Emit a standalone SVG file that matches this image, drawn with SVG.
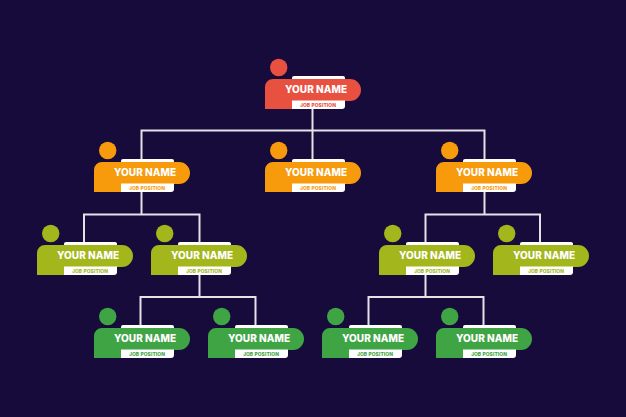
<svg xmlns="http://www.w3.org/2000/svg" width="626" height="417" viewBox="0 0 626 417">
<style>
.n{font-family:Inter,"Liberation Sans",sans-serif;font-weight:800;font-size:10px;fill:#fff;text-anchor:middle}
.j{font-family:Inter,"Liberation Sans",sans-serif;font-weight:800;font-size:4.9px;text-anchor:middle}
.w{fill:#fff}
.h{r:8.7px;cx:13.7px;cy:-11.5px}
#c path{fill:none;stroke:#e4e2e8;stroke-width:2}
.r{fill:#e8503f}
.o{fill:#f79a0b}
.l{fill:#a3b61c}
.g{fill:#3fa544}
</style>
<defs>
<g id="tabs">
<path class="w" d="M27 1V-1a2 2 0 0 1 2-2H78a2 2 0 0 1 2 2V1z"/>
</g>
<path id="body" d="M8 0H85a11 11 0 0 1 0 22H27V30H0V8a8 8 0 0 1 8-8z"/>
<path id="low" class="w" d="M27 21.500H80V27a3 3 0 0 1-3 3H27z"/>
</defs>
<rect width="626" height="417" fill="#170b3b"/>
<g id="c">
<path d="M312.500 109V162M141.500 162V130.500H484.500V162"/>
<path d="M141.500 190V214.500M84 245V214.500H199.500V245"/>
<path d="M484.500 190V214.500M425.500 245V214.500H540V245"/>
<path d="M199.500 273V297M140.500 328V297H255.500V328"/>
<path d="M425.500 273V297M368.500 328V297H483.500V328"/>
</g>
<g id="n1" transform="translate(265 79)"><circle class="h r"/><use href="#tabs"/><use href="#body" class="r"/><use href="#low"/><text class="n" x="51" y="14.400" textLength="62">YOUR NAME</text><text class="j r" x="53" y="28" textLength="36">JOB POSITION</text></g>
<g id="n2" transform="translate(94 162)"><circle class="h o"/><use href="#tabs"/><use href="#body" class="o"/><use href="#low"/><text class="n" x="51" y="14.400" textLength="62">YOUR NAME</text><text class="j o" x="53" y="28" textLength="36">JOB POSITION</text></g>
<g id="n3" transform="translate(265 162)"><circle class="h o"/><use href="#tabs"/><use href="#body" class="o"/><use href="#low"/><text class="n" x="51" y="14.400" textLength="62">YOUR NAME</text><text class="j o" x="53" y="28" textLength="36">JOB POSITION</text></g>
<g id="n4" transform="translate(436 162)"><circle class="h o"/><use href="#tabs"/><use href="#body" class="o"/><use href="#low"/><text class="n" x="51" y="14.400" textLength="62">YOUR NAME</text><text class="j o" x="53" y="28" textLength="36">JOB POSITION</text></g>
<g id="n5" transform="translate(37 245)"><circle class="h l"/><use href="#tabs"/><use href="#body" class="l"/><use href="#low"/><text class="n" x="51" y="14.400" textLength="62">YOUR NAME</text><text class="j l" x="53" y="28" textLength="36">JOB POSITION</text></g>
<g id="n6" transform="translate(151 245)"><circle class="h l"/><use href="#tabs"/><use href="#body" class="l"/><use href="#low"/><text class="n" x="51" y="14.400" textLength="62">YOUR NAME</text><text class="j l" x="53" y="28" textLength="36">JOB POSITION</text></g>
<g id="n7" transform="translate(379 245)"><circle class="h l"/><use href="#tabs"/><use href="#body" class="l"/><use href="#low"/><text class="n" x="51" y="14.400" textLength="62">YOUR NAME</text><text class="j l" x="53" y="28" textLength="36">JOB POSITION</text></g>
<g id="n8" transform="translate(493 245)"><circle class="h l"/><use href="#tabs"/><use href="#body" class="l"/><use href="#low"/><text class="n" x="51" y="14.400" textLength="62">YOUR NAME</text><text class="j l" x="53" y="28" textLength="36">JOB POSITION</text></g>
<g id="n9" transform="translate(94 328)"><circle class="h g"/><use href="#tabs"/><use href="#body" class="g"/><use href="#low"/><text class="n" x="51" y="14.400" textLength="62">YOUR NAME</text><text class="j g" x="53" y="28" textLength="36">JOB POSITION</text></g>
<g id="n10" transform="translate(208 328)"><circle class="h g"/><use href="#tabs"/><use href="#body" class="g"/><use href="#low"/><text class="n" x="51" y="14.400" textLength="62">YOUR NAME</text><text class="j g" x="53" y="28" textLength="36">JOB POSITION</text></g>
<g id="n11" transform="translate(322 328)"><circle class="h g"/><use href="#tabs"/><use href="#body" class="g"/><use href="#low"/><text class="n" x="51" y="14.400" textLength="62">YOUR NAME</text><text class="j g" x="53" y="28" textLength="36">JOB POSITION</text></g>
<g id="n12" transform="translate(436 328)"><circle class="h g"/><use href="#tabs"/><use href="#body" class="g"/><use href="#low"/><text class="n" x="51" y="14.400" textLength="62">YOUR NAME</text><text class="j g" x="53" y="28" textLength="36">JOB POSITION</text></g>
</svg>
